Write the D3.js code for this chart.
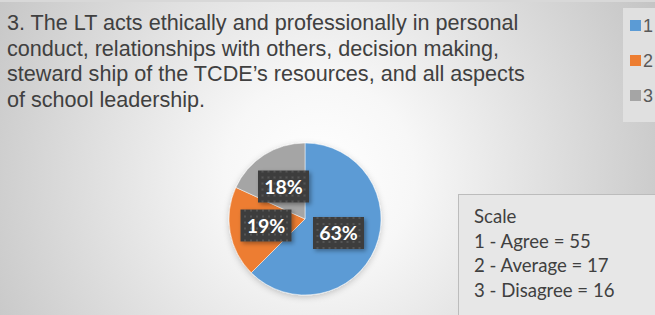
<!DOCTYPE html>
<html><head><meta charset="utf-8">
<script src="https://cdn.jsdelivr.net/npm/d3@7"></script>
<style>html,body{margin:0;padding:0;background:#fff;}svg{display:block;}</style>
</head><body>
<script>
const categories = ["1", "2", "3"];
const values = [55, 17, 16];
const scaleLabels = ["1 - Agree = 55", "2 - Average = 17", "3 - Disagree = 16"];
const colors = ["#5B9BD5", "#ED7D31", "#A5A5A5"];
const titleLines = [
  "3. The LT acts ethically and professionally in personal",
  "conduct, relationships with others, decision making,",
  "steward ship of the TCDE\u2019s resources, and all aspects",
  "of school leadership."
];

const W = 655, H = 315;
const svg = d3.select("body").append("svg").attr("width", W).attr("height", H);
const defs = svg.append("defs");

const rg = defs.append("radialGradient").attr("id", "bg")
  .attr("gradientUnits", "userSpaceOnUse")
  .attr("cx", 320).attr("cy", 175).attr("r", 380);
rg.append("stop").attr("offset", "0%").attr("stop-color", "#ffffff");
rg.append("stop").attr("offset", "25%").attr("stop-color", "#f7f7f7");
rg.append("stop").attr("offset", "100%").attr("stop-color", "#c4c4c4");

const pat = defs.append("pattern").attr("id", "dots").attr("patternUnits", "userSpaceOnUse")
  .attr("width", 6).attr("height", 6);
pat.append("rect").attr("width", 6).attr("height", 6).attr("fill", "#3e3e3e");
pat.append("rect").attr("x", 2).attr("y", 2).attr("width", 2).attr("height", 2).attr("fill", "#555555");

const sh = defs.append("filter").attr("id", "sh").attr("x", "-20%").attr("y", "-20%").attr("width", "150%").attr("height", "150%");
sh.append("feDropShadow").attr("dx", 2).attr("dy", 2).attr("stdDeviation", 2).attr("flood-color", "#000").attr("flood-opacity", 0.35);
const psh = defs.append("filter").attr("id", "psh").attr("x", "-20%").attr("y", "-20%").attr("width", "140%").attr("height", "140%");
psh.append("feDropShadow").attr("dx", 0).attr("dy", 2).attr("stdDeviation", 3).attr("flood-color", "#000").attr("flood-opacity", 0.2);

svg.append("rect").attr("width", W).attr("height", H).attr("fill", "url(#bg)");
svg.append("rect").attr("x", 0).attr("y", 0).attr("width", W).attr("height", 2).attr("fill", "#d8d8d8");

// title
const title = svg.append("text").attr("font-family", "Liberation Sans, Arial, sans-serif")
  .attr("font-size", 21.6).attr("fill", "#404040");
titleLines.forEach((t, i) => {
  title.append("tspan").attr("x", 7).attr("y", 30 + i * 25.5).text(t);
});

// legend
const lg = svg.append("g");
lg.append("rect").attr("x", 623).attr("y", 8).attr("width", 40).attr("height", 114).attr("fill", "#e0e0e0");
const ly = d3.scalePoint().domain(categories).range([25, 95]);
categories.forEach((c, i) => {
  lg.append("rect").attr("x", 630).attr("y", ly(c) - 5).attr("width", 11).attr("height", 11).attr("fill", colors[i]);
  lg.append("text").attr("x", 643).attr("y", ly(c) + 7).attr("font-family", "Liberation Sans, Arial, sans-serif")
    .attr("font-size", 18).attr("fill", "#595959").text(c);
});

// pie
const cx = 305, cy = 219, R = 76;
const pie = d3.pie().sort(null).value(d => d)(values);
const arc = d3.arc().innerRadius(0).outerRadius(R);
const total = d3.sum(values);
const pg = svg.append("g").attr("transform", `translate(${cx},${cy})`);
pg.append("g").attr("filter", "url(#psh)").selectAll("path").data(pie).join("path")
  .attr("d", arc).attr("fill", (d, i) => colors[i]).attr("stroke", "#ffffff").attr("stroke-width", 0.5);

// label boxes (centres relative to pie)
const boxW = 51, boxH = 32;
const labelPos = [[33.5, 14], [-39, 6.5], [-21.5, -32.5]];
pie.forEach((d, i) => {
  const [x, y] = labelPos[i];
  const g = pg.append("g").attr("transform", `translate(${x},${y})`);
  g.append("rect").attr("x", -boxW / 2).attr("y", -boxH / 2).attr("width", boxW).attr("height", boxH)
    .attr("fill", "url(#dots)").attr("filter", "url(#sh)");
  g.append("text").attr("text-anchor", "middle").attr("y", 7)
    .attr("font-family", "Lato, Carlito, sans-serif").attr("font-weight", "bold").attr("font-size", 19.5)
    .attr("fill", "#ffffff").text(Math.round(d.value / total * 100) + "%");
});

// scale box
const sb = svg.append("g");
sb.append("rect").attr("x", 458.5).attr("y", 194.5).attr("width", 210).attr("height", 130)
  .attr("fill", "#e7e7e7").attr("stroke", "#bcbcbc").attr("stroke-width", 1);
const st = sb.append("text").attr("font-family", "Lato, Carlito, sans-serif").attr("font-size", 18.6).attr("fill", "#404040");
["Scale"].concat(scaleLabels).forEach((t, i) => {
  st.append("tspan").attr("x", 474).attr("y", 223 + i * 24.7).text(t);
});
</script>
</body></html>
